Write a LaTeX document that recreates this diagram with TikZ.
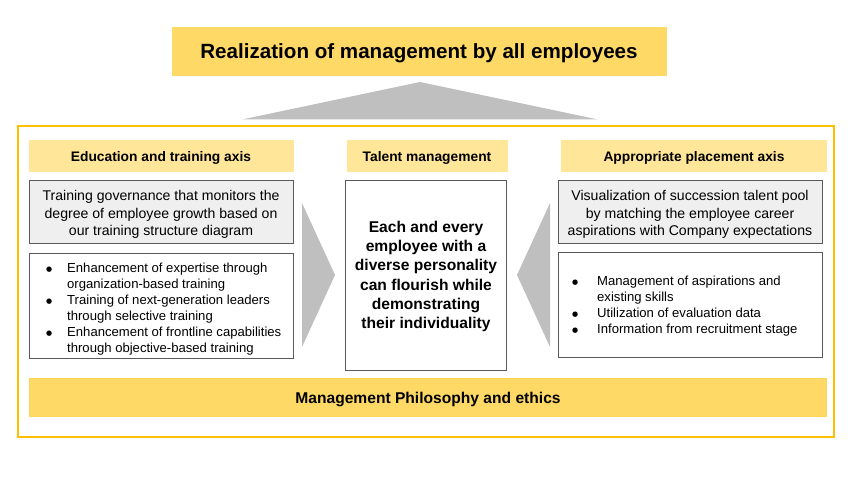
\documentclass[tikz,border=0pt]{standalone}
\usepackage{fontspec}
\setmainfont{Liberation Sans}
\newfontfamily\dotfont{DejaVu Sans}
\newcommand{\bdot}{\raisebox{1.6pt}{\dotfont\fontsize{7}{7}\selectfont ●}}
\usetikzlibrary{positioning}
\definecolor{gold}{HTML}{FFD966}
\definecolor{goldlight}{HTML}{FFE699}
\definecolor{framecol}{HTML}{FFC000}
\definecolor{greyfill}{HTML}{EFEFEF}
\definecolor{greyline}{HTML}{595959}
\definecolor{arrowgrey}{HTML}{BFBFBF}
\tikzset{
  box/.style={draw=greyline, line width=0.9pt, inner sep=0pt, outer sep=0pt},
  hdr/.style={fill=goldlight, draw=none, inner sep=0pt, font=\bfseries\fontsize{13.8}{16}\selectfont},
  hdrtext/.style={inner sep=0pt, font=\bfseries\fontsize{13.8}{16}\selectfont},
  bul/.style={anchor=north west, inner sep=0pt, align=left, font=\fontsize{13.1}{16}\selectfont},
  body/.style={inner sep=0pt, align=center, font=\fontsize{14.1}{17.5}\selectfont},
}
\begin{document}
\begin{tikzpicture}[x=1pt,y=-1pt]
\useasboundingbox (0,0) rectangle (850,478);
% top title
\node[fill=gold, draw=framecol!60, line width=0.6pt, minimum width=494pt, minimum height=48pt, inner sep=0pt] (title) at (419,51) {};
\node[inner sep=0pt, font=\bfseries\fontsize{20.6}{24}\selectfont] (titlet) at (419,53) {Realization of management by all employees};
% grey roof triangle
\fill[arrowgrey] (420,82) coordinate (apex) -- (598,119.5) coordinate (roofR) -- (242,119.5) coordinate (roofL) -- cycle;
% outer frame
\draw[framecol, line width=2.2pt] (18,126) rectangle (834,437);
% headers
\node[hdr, minimum width=265pt, minimum height=32pt] (hL) at (161,156) {};
\node[hdrtext] (hLt) at (161,158) {Education and training axis};
\node[hdr, minimum width=161pt, minimum height=32pt] (hM) at (427,156) {};
\node[hdrtext] (hMt) at (427,158) {Talent management};
\node[hdr, minimum width=266pt, minimum height=32pt] (hR) at (694,156) {};
\node[hdrtext] (hRt) at (694,158) {Appropriate placement axis};
% left boxes
\node[box, fill=greyfill, minimum width=264pt, minimum height=63pt] (gL) at (161,211.5) {};
\node[body] (gLt) at (161,214.5) {Training governance that monitors the\\degree of employee growth based on\\our training structure diagram};
\node[box, fill=white, minimum width=264pt, minimum height=105pt] (bL) at (161,305.5) {};
\node[bul] (bLt) at (46,261.5) {\begin{tabular}{@{}p{21pt}@{}l@{}}
\bdot & Enhancement of expertise through\\
 & organization-based training\\
\bdot & Training of next-generation leaders\\
 & through selective training\\
\bdot & Enhancement of frontline capabilities\\
 & through objective-based training
\end{tabular}};
% middle box
\node[box, fill=white, minimum width=161pt, minimum height=190pt] (mid) at (426,275) {};
\node[inner sep=0pt, align=center, font=\bfseries\fontsize{15.6}{19.2}\selectfont] (midt) at (426,276.5)
  {Each and every\\employee with a\\diverse personality\\can flourish while\\demonstrating\\their individuality};
% right boxes
\node[box, fill=greyfill, minimum width=264pt, minimum height=63pt] (gR) at (690,211.5) {};
\node[body] (gRt) at (690,214.5) {Visualization of succession talent pool\\by matching the employee career\\aspirations with Company expectations};
\node[box, fill=white, minimum width=264pt, minimum height=105pt] (bR) at (690,304.5) {};
\node[bul] (bRt) at (572,274.5) {\begin{tabular}{@{}p{25pt}@{}l@{}}
\bdot & Management of aspirations and\\
 & existing skills\\
\bdot & Utilization of evaluation data\\
\bdot & Information from recruitment stage
\end{tabular}};
% chevrons
\fill[arrowgrey] (302,203) coordinate (aLt) -- (335,275) coordinate (aLtip) -- (302,347) coordinate (aLb) -- cycle;
\fill[arrowgrey] (550,203) coordinate (aRt) -- (517,275) coordinate (aRtip) -- (550,347) coordinate (aRb) -- cycle;
% bottom bar
\node[fill=gold, draw=gold!80!framecol, line width=0.6pt, minimum width=797pt, minimum height=38pt, inner sep=0pt] (phil) at (428,397) {};
\node[inner sep=0pt, font=\bfseries\fontsize{15.6}{18}\selectfont] (philt) at (428,399) {Management Philosophy and ethics};
\end{tikzpicture}
\end{document}
